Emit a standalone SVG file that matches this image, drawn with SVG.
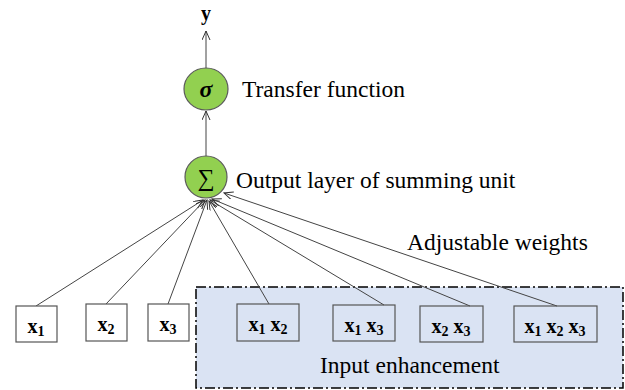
<svg xmlns="http://www.w3.org/2000/svg" width="625" height="390" viewBox="0 0 625 390">
<defs>
<marker id="ah" markerUnits="userSpaceOnUse" markerWidth="12" markerHeight="12" refX="9" refY="4" orient="auto">
<path d="M0,0 L9,4 L0,8" fill="none" stroke="#333" stroke-width="1"/>
</marker>
<style>
text{font-family:'Liberation Serif','Times New Roman',Times,'Nimbus Roman','DejaVu Serif',serif}
.lbl{font-size:23.5px;fill:#000}
.var{font-size:20px;font-weight:bold;fill:#000}
.sub{font-size:14px}
.box{fill:#fff;stroke:#555;stroke-width:1.2}
.ibox{fill:none;stroke:#555;stroke-width:1.2}
.node{fill:#92d050;stroke:#5a5a5a;stroke-width:1.2}
.edge{stroke:#444;stroke-width:1;fill:none;marker-end:url(#ah)}
</style>
</defs>
<rect width="625" height="390" fill="#fff"/>
<g id="enhancement">
<rect x="196" y="287" width="427" height="101" fill="#dae3f3" stroke="#000" stroke-width="1.5" stroke-dasharray="10,3,2,3"/>
<text class="lbl" x="320" y="373">Input enhancement</text>
</g>
<g id="connectors">
<line class="edge" x1="206" y1="68" x2="206" y2="31"/>
<line class="edge" x1="206" y1="156" x2="206" y2="111"/>
<line class="edge" x1="36" y1="306" x2="203" y2="200"/>
<line class="edge" x1="106" y1="304" x2="205" y2="200"/>
<line class="edge" x1="168" y1="304" x2="207" y2="200"/>
<line class="edge" x1="269" y1="304" x2="209" y2="201"/>
<line class="edge" x1="384" y1="305" x2="210" y2="200"/>
<line class="edge" x1="470" y1="306" x2="212" y2="199"/>
<line class="edge" x1="557" y1="306" x2="224" y2="193"/>
</g>
<g id="y">
<text class="var" x="206" y="20" text-anchor="middle">y</text>
</g>
<g id="sigma">
<ellipse class="node" cx="206" cy="89" rx="22" ry="21"/>
<text x="206" y="97" text-anchor="middle" font-size="24" font-weight="bold" font-style="italic">σ</text>
<text class="lbl" x="242" y="97">Transfer function</text>
</g>
<g id="sum">
<ellipse class="node" cx="206" cy="177" rx="21" ry="21"/>
<text x="206" y="186" text-anchor="middle" font-size="24">∑</text>
<text class="lbl" x="236" y="188">Output layer of summing unit</text>
</g>
<g id="weights">
<text class="lbl" x="407" y="250">Adjustable weights</text>
</g>
<g id="x1">
<rect class="box" x="16" y="306" width="41" height="36"/>
<text class="var" x="36" y="333" text-anchor="middle">x<tspan class="sub" dy="3">1</tspan></text>
</g>
<g id="x2">
<rect class="box" x="86" y="304" width="41" height="37"/>
<text class="var" x="106" y="331" text-anchor="middle">x<tspan class="sub" dy="3">2</tspan></text>
</g>
<g id="x3">
<rect class="box" x="148" y="304" width="41" height="37"/>
<text class="var" x="168" y="331" text-anchor="middle">x<tspan class="sub" dy="3">3</tspan></text>
</g>
<g id="x1x2">
<rect class="ibox" x="237" y="304" width="62" height="37"/>
<text class="var" x="268" y="331" text-anchor="middle">x<tspan class="sub" dy="3">1</tspan><tspan dy="-3"> x</tspan><tspan class="sub" dy="3">2</tspan></text>
</g>
<g id="x1x3">
<rect class="ibox" x="333" y="305" width="62" height="36"/>
<text class="var" x="364" y="332" text-anchor="middle">x<tspan class="sub" dy="3">1</tspan><tspan dy="-3"> x</tspan><tspan class="sub" dy="3">3</tspan></text>
</g>
<g id="x2x3">
<rect class="ibox" x="420" y="306" width="63" height="36"/>
<text class="var" x="451" y="333" text-anchor="middle">x<tspan class="sub" dy="3">2</tspan><tspan dy="-3"> x</tspan><tspan class="sub" dy="3">3</tspan></text>
</g>
<g id="x1x2x3">
<rect class="ibox" x="514" y="306" width="83" height="36"/>
<text class="var" x="555" y="333" text-anchor="middle">x<tspan class="sub" dy="3">1</tspan><tspan dy="-3"> x</tspan><tspan class="sub" dy="3">2</tspan><tspan dy="-3"> x</tspan><tspan class="sub" dy="3">3</tspan></text>
</g>
</svg>
